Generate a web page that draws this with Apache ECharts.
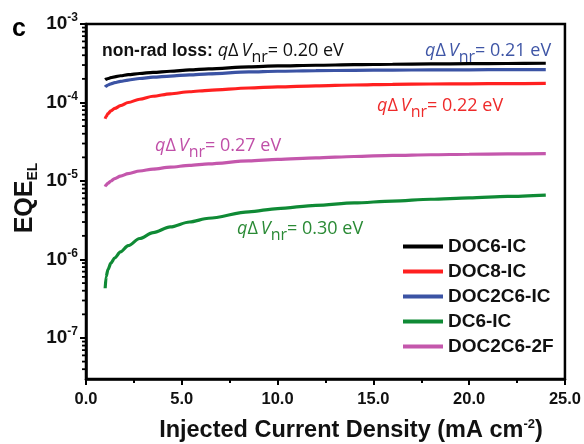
<!DOCTYPE html>
<html>
<head>
<meta charset="utf-8">
<script src="https://cdn.jsdelivr.net/npm/echarts@6/dist/echarts.min.js"></script>
<style>html,body{margin:0;padding:0;background:#fff}#c{width:584px;height:444px}</style>
</head>
<body>
<div id="c"></div>
<script>
// Injected current density (mA cm^-2)
var currentDensity = [1.0, 1.05, 1.15, 1.3, 1.5, 1.8, 2.2, 2.8, 3.5, 4.4, 5.4, 6.4, 8.5, 10, 12, 14, 16, 18, 20, 22, 24];
var seriesNames = ['DOC6-IC', 'DOC8-IC', 'DOC2C6-IC', 'DC6-IC', 'DOC2C6-2F'];
var eqeDOC6IC   = [1.95e-4, 1.98e-4, 2.02e-4, 2.07e-4, 2.12e-4, 2.19e-4, 2.26e-4, 2.34e-4, 2.42e-4, 2.5e-4, 2.6e-4, 2.68e-4, 2.85e-4, 2.92e-4, 2.98e-4, 3.03e-4, 3.07e-4, 3.1e-4, 3.12e-4, 3.14e-4, 3.16e-4];
var eqeDOC8IC   = [6.2e-5, 6.6e-5, 7.2e-5, 7.8e-5, 8.4e-5, 9.1e-5, 1.0e-4, 1.1e-4, 1.2e-4, 1.29e-4, 1.37e-4, 1.43e-4, 1.53e-4, 1.58e-4, 1.63e-4, 1.67e-4, 1.7e-4, 1.72e-4, 1.73e-4, 1.74e-4, 1.75e-4];
var eqeDOC2C6IC = [1.58e-4, 1.62e-4, 1.67e-4, 1.73e-4, 1.79e-4, 1.86e-4, 1.93e-4, 2.02e-4, 2.1e-4, 2.17e-4, 2.25e-4, 2.32e-4, 2.45e-4, 2.5e-4, 2.54e-4, 2.57e-4, 2.59e-4, 2.6e-4, 2.61e-4, 2.62e-4, 2.63e-4];
var eqeDC6IC    = [4.3e-7, 6.0e-7, 7.5e-7, 9.0e-7, 1.05e-6, 1.25e-6, 1.5e-6, 1.85e-6, 2.2e-6, 2.6e-6, 3.0e-6, 3.35e-6, 4.05e-6, 4.45e-6, 4.9e-6, 5.25e-6, 5.55e-6, 5.85e-6, 6.1e-6, 6.35e-6, 6.6e-6];
var eqeDOC2C62F = [8.5e-6, 8.9e-6, 9.4e-6, 1.0e-5, 1.07e-5, 1.15e-5, 1.24e-5, 1.34e-5, 1.42e-5, 1.5e-5, 1.58e-5, 1.65e-5, 1.8e-5, 1.88e-5, 1.97e-5, 2.05e-5, 2.12e-5, 2.16e-5, 2.19e-5, 2.21e-5, 2.23e-5];
var xTicks = [0, 5, 10, 15, 20, 25];
var yMinorTicks = [4e-8,5e-8,6e-8,7e-8,8e-8,9e-8,
  2e-7,3e-7,4e-7,5e-7,6e-7,7e-7,8e-7,9e-7,
  2e-6,3e-6,4e-6,5e-6,6e-6,7e-6,8e-6,9e-6,
  2e-5,3e-5,4e-5,5e-5,6e-5,7e-5,8e-5,9e-5,
  2e-4,3e-4,4e-4,5e-4,6e-4,7e-4,8e-4,9e-4];
var annotations = [
  {pre: 'non-rad loss: ', val: '= 0.20 eV', color: '#111111'},
  {pre: '', val: '= 0.21 eV', color: '#3f56a6'},
  {pre: '', val: '= 0.22 eV', color: '#ee2a2a'},
  {pre: '', val: '= 0.27 eV', color: '#c04fa8'},
  {pre: '', val: '= 0.30 eV', color: '#2a8a35'}
];

var colors = ['#000000', '#ff2020', '#3b53a4', '#0f8a35', '#c457ac'];
var allY = [eqeDOC6IC, eqeDOC8IC, eqeDOC2C6IC, eqeDC6IC, eqeDOC2C62F];

function pairs(ys) { return currentDensity.map(function (x, i) { return [x, ys[i]]; }); }

var chart = echarts.init(document.getElementById('c'), null, {renderer: 'canvas'});
var FONT = 'Liberation Sans';
var AFONT = 'Open Sans';

var series = seriesNames.map(function (n, i) {
  return {
    name: n, type: 'line', data: pairs(allY[i]), showSymbol: false, symbol: 'none',
    smooth: 0.3, smoothMonotone: 'x',
    lineStyle: {color: colors[i], width: 3.2}, itemStyle: {color: colors[i]}, z: 3
  };
});
series.push({
  name: 'minorTicks', type: 'custom', silent: true, clip: false, z: 5,
  data: yMinorTicks.map(function (v) { return [0, v]; }),
  encode: {x: 0, y: 1},
  renderItem: function (params, api) {
    var p = api.coord([0, api.value(1)]);
    return {type: 'line', shape: {x1: p[0] - 4, y1: p[1], x2: p[0], y2: p[1]}, style: {stroke: '#000', lineWidth: 1.8}};
  }
});

function annText(a) {
  return (a.pre ? '{b|' + a.pre + '}' : '') + '{i|q}{n|\u0394}{v|V}{sub|nr}{n|' + a.val + '}';
}
function annRich(color) {
  return {
    b: {fontFamily: FONT, fontWeight: 'bold', fontSize: 17.5, fill: '#111'},
    i: {fontFamily: AFONT, fontStyle: 'italic', fontSize: 18, fill: color},
    v: {fontFamily: AFONT, fontStyle: 'italic', fontSize: 18, fill: color, padding: [0, 0, 0, 3]},
    n: {fontFamily: AFONT, fontSize: 18, fill: color},
    sub: {fontFamily: AFONT, fontSize: 16, fill: color, padding: [13, 0, 0, 0]}
  };
}
var annPos = [[102, 51], [425, 51], [377, 106], [155, 146], [237, 229]];
var graphics = annotations.map(function (a, i) {
  return {type: 'text', x: annPos[i][0], y: annPos[i][1], z: 10,
    style: {text: annText(a), rich: annRich(a.color), fill: a.color, align: 'left', verticalAlign: 'middle'}};
});
graphics.push({type: 'text', x: 12, y: 29, style: {text: 'c', fontFamily: FONT, fontWeight: 'bold', fontSize: 25, fill: '#000', verticalAlign: 'middle'}});
graphics.push({type: 'text', x: 351, y: 431, style: {
  text: '{t|Injected Current Density (mA cm}{s|-2}{t|)}', align: 'center', verticalAlign: 'middle',
  rich: {t: {fontFamily: FONT, fontWeight: 'bold', fontSize: 23.5, fill: '#111'},
         s: {fontFamily: FONT, fontWeight: 'bold', fontSize: 13, fill: '#111', padding: [0, 0, 14, 0]}}
}});
graphics.push({type: 'text', x: 25, y: 198, rotation: Math.PI / 2, style: {
  text: '{t|EQE}{s|EL}', align: 'center', verticalAlign: 'middle',
  rich: {t: {fontFamily: FONT, fontWeight: 'bold', fontSize: 25, fill: '#111'},
         s: {fontFamily: FONT, fontWeight: 'bold', fontSize: 14, fill: '#111', padding: [16, 0, 0, 0]}}
}});

chart.setOption({
  animation: false,
  backgroundColor: '#fff',
  grid: {left: 86, right: 17, top: 24, bottom: 65, show: true, borderColor: '#000', borderWidth: 2.5, backgroundColor: 'transparent'},
  legend: {
    data: seriesNames, orient: 'vertical', left: 398, top: 232, itemWidth: 40, itemHeight: 4, itemGap: 6,
    icon: 'rect', textStyle: {fontFamily: FONT, fontWeight: 'bold', fontSize: 19, color: '#111'},
    selectedMode: false
  },
  xAxis: {
    type: 'value', min: xTicks[0], max: xTicks[xTicks.length - 1], interval: 5,
    axisLine: {lineStyle: {color: '#000', width: 2.5}},
    axisTick: {inside: false, length: 6, lineStyle: {width: 2, color: '#000'}},
    minorTick: {show: true, splitNumber: 2, length: 4, lineStyle: {width: 2, color: '#000'}},
    splitLine: {show: false},
    axisLabel: {margin: 12, fontFamily: FONT, fontWeight: 'bold', fontSize: 16.5, color: '#111',
      formatter: function (v) { return v.toFixed(1); }}
  },
  yAxis: {
    type: 'log', logBase: 10, min: 3e-8, max: 1e-3,
    axisLine: {show: true, lineStyle: {color: '#000', width: 2.5}},
    axisTick: {inside: false, length: 6, lineStyle: {width: 2, color: '#000'}},
    splitLine: {show: false},
    axisLabel: {margin: 8, showMinLabel: false,
      formatter: function (v) { var e = Math.round(Math.log10(v)); return '{b|10}{s|' + e + '}'; },
      rich: {b: {fontFamily: FONT, fontWeight: 'bold', fontSize: 19, color: '#111'},
             s: {fontFamily: FONT, fontWeight: 'bold', fontSize: 12, color: '#111', padding: [0, 0, 12, 0]}}
    }
  },
  series: series,
  graphic: graphics
});
</script>
</body>
</html>
